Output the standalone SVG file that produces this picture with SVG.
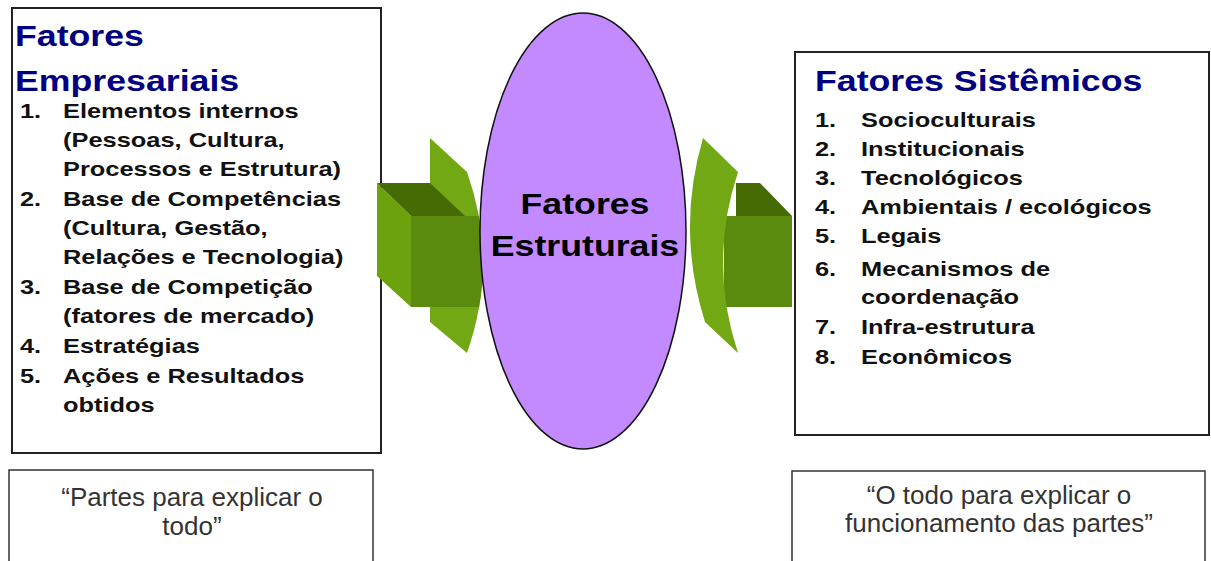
<svg xmlns="http://www.w3.org/2000/svg" width="1211" height="561" viewBox="0 0 1211 561">
<style>
.box{fill:#fff;stroke:#222;stroke-width:2}
.sub{fill:#fff;stroke:#333;stroke-width:1.5}
.title{font-family:"Liberation Sans",Arial,sans-serif;font-weight:bold;font-size:30px;fill:#000080}
.ctitle{font-family:"Liberation Sans",Arial,sans-serif;font-weight:bold;font-size:30px;fill:#000}
.item{font-family:"Liberation Sans",Arial,sans-serif;font-weight:bold;font-size:21px;fill:#111}
.note{font-family:"Liberation Sans",Arial,sans-serif;font-size:26px;fill:#333;text-anchor:middle}
.light{fill:#72a814}
.side{fill:#6ca20e}
.front{fill:#5a8b0e}
.top{fill:#466b05}
</style>
<defs>
<clipPath id="clipL"><path d="M0,0 L467,0 L467,172 Q499,262 467,353 L467,561 L0,561 Z"/></clipPath>
</defs>

<g id="empresariais">
<rect class="box" x="12" y="8" width="369" height="445"/>
<text class="title" transform="translate(15,46) scale(1.19,1)">Fatores</text>
<text class="title" transform="translate(15,91) scale(1.19,1)">Empresariais</text>
<g class="item">
<text transform="translate(20,118) scale(1.21,1)">1.</text>
<text transform="translate(63,118) scale(1.21,1)">Elementos internos</text>
<text transform="translate(63,147) scale(1.21,1)">(Pessoas, Cultura,</text>
<text transform="translate(63,176) scale(1.21,1)">Processos e Estrutura)</text>
<text transform="translate(20,206) scale(1.21,1)">2.</text>
<text transform="translate(63,206) scale(1.21,1)">Base de Competências</text>
<text transform="translate(63,235) scale(1.21,1)">(Cultura, Gestão,</text>
<text transform="translate(63,264) scale(1.21,1)">Relações e Tecnologia)</text>
<text transform="translate(20,294) scale(1.21,1)">3.</text>
<text transform="translate(63,294) scale(1.21,1)">Base de Competição</text>
<text transform="translate(63,323) scale(1.21,1)">(fatores de mercado)</text>
<text transform="translate(20,353) scale(1.21,1)">4.</text>
<text transform="translate(63,353) scale(1.21,1)">Estratégias</text>
<text transform="translate(20,383) scale(1.21,1)">5.</text>
<text transform="translate(63,383) scale(1.21,1)">Ações e Resultados</text>
<text transform="translate(63,412) scale(1.21,1)">obtidos</text>
</g>
</g>

<g id="sistemicos">
<rect class="box" x="795" y="52" width="414" height="383"/>
<text class="title" transform="translate(815,91) scale(1.19,1)">Fatores Sistêmicos</text>
<g class="item">
<text transform="translate(815,127) scale(1.21,1)">1.</text>
<text transform="translate(861,127) scale(1.21,1)">Socioculturais</text>
<text transform="translate(815,156) scale(1.21,1)">2.</text>
<text transform="translate(861,156) scale(1.21,1)">Institucionais</text>
<text transform="translate(815,185) scale(1.21,1)">3.</text>
<text transform="translate(861,185) scale(1.21,1)">Tecnológicos</text>
<text transform="translate(815,214) scale(1.21,1)">4.</text>
<text transform="translate(861,214) scale(1.21,1)">Ambientais / ecológicos</text>
<text transform="translate(815,243) scale(1.21,1)">5.</text>
<text transform="translate(861,243) scale(1.21,1)">Legais</text>
<text transform="translate(815,276) scale(1.21,1)">6.</text>
<text transform="translate(861,276) scale(1.21,1)">Mecanismos de</text>
<text transform="translate(861,304) scale(1.21,1)">coordenação</text>
<text transform="translate(815,334) scale(1.21,1)">7.</text>
<text transform="translate(861,334) scale(1.21,1)">Infra-estrutura</text>
<text transform="translate(815,364) scale(1.21,1)">8.</text>
<text transform="translate(861,364) scale(1.21,1)">Econômicos</text>
</g>
</g>

<g id="partes">
<rect class="sub" x="9" y="470" width="364" height="100"/>
<text class="note" x="192" y="506">“Partes para explicar o</text>
<text class="note" x="192" y="535">todo”</text>
</g>

<g id="todo">
<rect class="sub" x="792" y="471" width="413" height="100"/>
<text class="note" x="999" y="504">“O todo para explicar o</text>
<text class="note" x="999" y="532">funcionamento das partes”</text>
</g>

<g id="connectors">
<g id="arrow-left">
<path class="light" d="M430,138 L467,172 Q499,262 467,353 L430,322 Z"/>
<polygon class="side" points="377,183 411,216 411,307 377,276"/>
<rect class="front" x="411" y="216" width="90" height="91" clip-path="url(#clipL)"/>
<polygon class="top" points="377,183 430,183 465,216 411,216"/>
</g>
<g id="arrow-right">
<rect class="front" x="724" y="216" width="68" height="91"/>
<polygon class="top" points="736,183 760,183 792,216 736,216"/>
<path class="light" d="M703,138 L738,172 Q708,262 738,353 L705,322 Q676,230 703,138 Z"/>
</g>
</g>

<g id="estruturais">
<ellipse cx="583" cy="231" rx="103" ry="218" fill="#c38aff" stroke="#111" stroke-width="1.5"/>
<text class="ctitle" text-anchor="middle" transform="translate(585,214) scale(1.19,1)">Fatores</text>
<text class="ctitle" text-anchor="middle" transform="translate(585,256) scale(1.19,1)">Estruturais</text>
</g>
</svg>
